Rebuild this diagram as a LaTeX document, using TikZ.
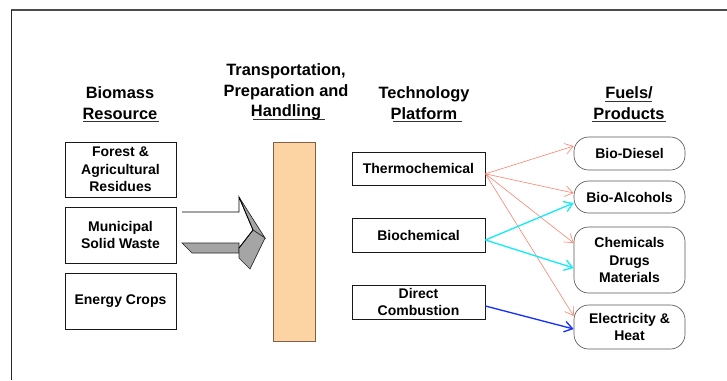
\documentclass[tikz,border=0pt]{standalone}
\usepackage{fontspec}
\setmainfont{Liberation Sans}
\usetikzlibrary{arrows.meta}
\definecolor{peach}{RGB}{252,212,164}
\definecolor{peachline}{RGB}{130,95,70}
\definecolor{salmon}{RGB}{250,130,110}
\definecolor{cyanl}{RGB}{20,235,245}
\definecolor{bluel}{RGB}{20,50,250}
\definecolor{arrowgray}{RGB}{165,165,165}
\begin{document}
\begin{tikzpicture}[x=0.75pt,y=-0.75pt,
  head/.style={font=\fontsize{12.3}{15.2}\selectfont\bfseries, align=center, inner sep=0pt},
  txt/.style={font=\fontsize{10.5}{13}\selectfont\bfseries, align=center, inner sep=0pt},
  srcbox/.style={txt, draw=black!90, line width=0.6pt, minimum width=83.25pt},
  techbox/.style={txt, draw=black!90, line width=0.6pt, minimum width=99.75pt},
  prodbox/.style={txt, draw=black!65, line width=0.5pt, rounded corners=11pt, minimum width=83.25pt},
  redarr/.style={draw=salmon, line width=0.45pt, -{Straight Barb[length=6pt,width=8pt]}},
  cyanarr/.style={draw=cyanl, line width=1pt, -{Straight Barb[length=6pt,width=8pt]}},
  bluearr/.style={draw=bluel, line width=1pt, -{Straight Barb[length=6pt,width=8pt]}},
  uline/.style={draw=black!80, line width=0.7pt}
]
\useasboundingbox (0,0) rectangle (727,380);
% frame
\draw[gray!60!black, line width=1.2pt] (11,10) -- (727,10);
\draw[black!85, line width=0.6pt] (11,10) -- (11,380);

% headings
\node[head] (hbio) at (120,103) {Biomass\\Resource};
\node[head] (htrans) at (286,92) {Transportation,\\Preparation and\\Handling};
\node[head] (htech) at (424,103) {Technology\\Platform};
\node[head] (hfuel) at (629,103) {Fuels/\\Products};
\draw[uline] (83,121) -- (159,121);
\draw[uline] (253,119) -- (325,119);
\draw[uline] (393,121) -- (462,121);
\draw[uline] (605,101) -- (652,101);
\draw[uline] (592,121) -- (666,121);

% source boxes
\node[srcbox, minimum height=41.25pt] (forest) at (120.5,169.5) {Forest \&\\Agricultural\\Residues};
\node[srcbox, minimum height=42pt] (msw) at (120.5,235) {Municipal\\Solid Waste};
\node[srcbox, minimum height=42pt] (crops) at (120.5,301) {Energy Crops};

% orange bar
\node[draw=peachline, fill=peach, line width=0.7pt, minimum width=31.5pt, minimum height=149.25pt, inner sep=0pt] (bar) at (294,241.5) {};

% big 3D arrow
\fill[white] (182,212) -- (239,212) -- (239,197) -- (253,230) -- (239,248) -- (239,243) -- (182,243) -- cycle;
\filldraw[fill=arrowgray, draw=black!85, line width=0.5pt] (182,243) -- (239,243) -- (239,253) -- (192,253) -- cycle;
\filldraw[fill=arrowgray, draw=black!85, line width=0.5pt] (239,197) -- (265,238) -- (253,230) -- cycle;
\filldraw[fill=arrowgray, draw=black!85, line width=0.5pt] (239,248) -- (253,230) -- (265,238) -- (250,269) -- (239,258) -- cycle;
\draw[black, line width=0.6pt] (182,212) -- (239,212) -- (239,197) -- (253,230) -- (239,248);

% technology boxes
\node[techbox, minimum height=24.75pt] (thermo) at (418.5,168.5) {Thermochemical};
\node[techbox, minimum height=25.5pt] (biochem) at (418.5,235) {Biochemical};
\node[techbox, minimum height=25.5pt] (direct) at (418.5,302) {Direct\\Combustion};

% product boxes
\node[prodbox, minimum height=24.75pt] (diesel) at (629.5,153.5) {Bio-Diesel};
\node[prodbox, minimum height=24pt] (alcohol) at (629.5,197) {Bio-Alcohols};
\node[prodbox, minimum height=49.5pt] (chem) at (629.5,260) {Chemicals\\Drugs\\Materials};
\node[prodbox, minimum height=33pt] (elec) at (629.5,327) {Electricity \&\\Heat};

% connectors
\draw[redarr] ([yshift=-4pt]thermo.east) -- ([yshift=5.6pt]diesel.west);
\draw[redarr] ([yshift=-4pt]thermo.east) -- ([yshift=3pt]alcohol.west);
\draw[redarr] ([yshift=-4pt]thermo.east) -- ([yshift=12.75pt]chem.west);
\draw[redarr] ([yshift=-4pt]thermo.east) -- ([yshift=8.25pt]elec.west);
\draw[cyanarr] ([yshift=-3.75pt]biochem.east) -- ([yshift=-4.5pt]alcohol.west);
\draw[cyanarr] ([yshift=-3.75pt]biochem.east) -- ([yshift=-6pt]chem.west);
\draw[bluearr] ([yshift=-3pt]direct.east) -- ([yshift=-1.5pt]elec.west);
\end{tikzpicture}
\end{document}
